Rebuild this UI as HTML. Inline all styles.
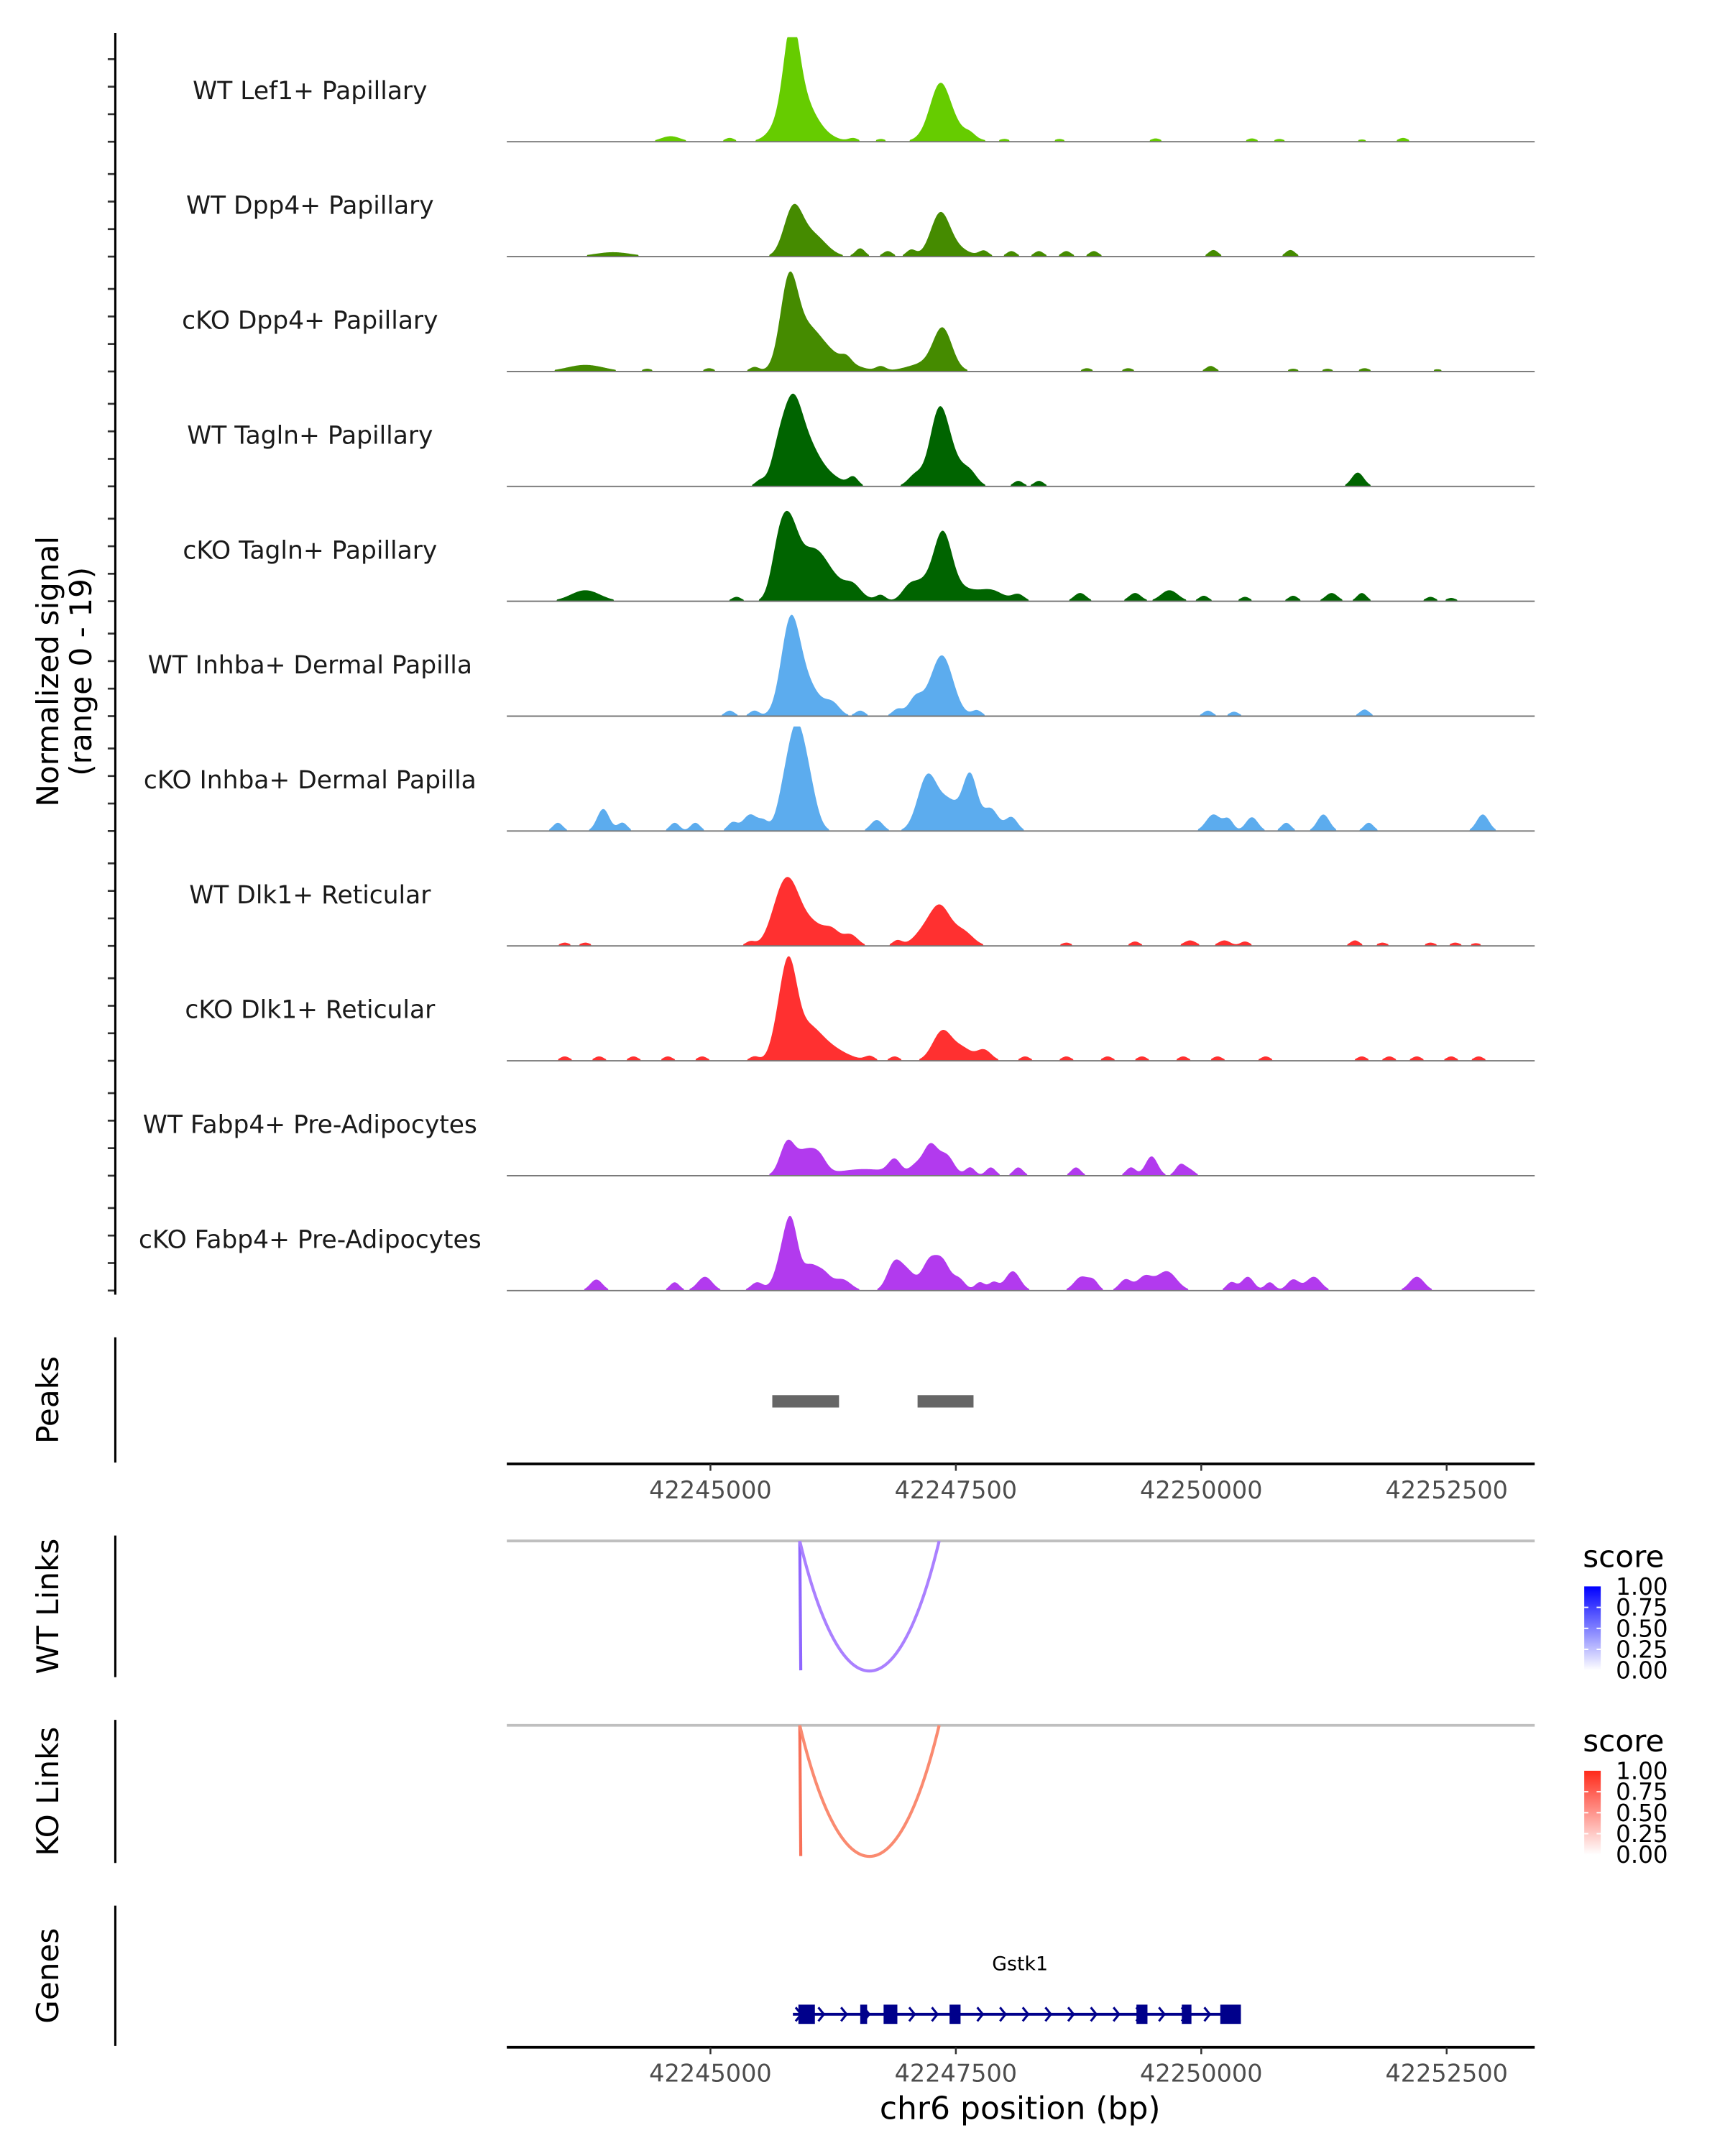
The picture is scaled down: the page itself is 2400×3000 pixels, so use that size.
<!DOCTYPE html>
<html><head><meta charset="utf-8">
<style>
html,body{margin:0;padding:0;background:#fff;}
svg{display:block;font-family:"DejaVu Sans","Liberation Sans",sans-serif;}
</style></head>
<body>
<svg id="chart" width="2400" height="3000" viewBox="0 0 1253 1567" xmlns="http://www.w3.org/2000/svg">
<g id="tracks"></g>
<g id="axes"></g>
</svg>
<script>
// ---- data ----
const REF = 42245000;
const trackNames = ["WT Lef1+ Papillary","WT Dpp4+ Papillary","cKO Dpp4+ Papillary","WT Tagln+ Papillary","cKO Tagln+ Papillary","WT Inhba+ Dermal Papilla","cKO Inhba+ Dermal Papilla","WT Dlk1+ Reticular","cKO Dlk1+ Reticular","WT Fabp4+ Pre-Adipocytes","cKO Fabp4+ Pre-Adipocytes"];
const trackColors = ["#66CC00","#458B00","#458B00","#006400","#006400","#5CACEE","#5CACEE","#FF3030","#FF3030","#B23AEE","#B23AEE"];
// bump offsets (bp relative to REF)
const bumpOffsets = [
 [826,854,960,2338,2420,-406,196,1456,1736,2646,2996,3556,4536,5516,5796,7056,6636],
 [840,1036,2338,2440,-994,1526,1806,2044,2786,3066,3346,3626,3906,5124,5908],
 [798,966,1176,2366,2200,-1274,-14,448,1386,1736,3836,4256,5096,5936,6286,6664,7406,-644],
 [826,966,686,2324,2436,2086,504,1176,1456,2646,3136,3346,6594],
 [798,1036,1176,686,2366,2156,2576,-1274,266,1456,1736,2016,2856,3136,3766,4326,4676,5026,5446,5936,6328,6636,7336,7546],
 [812,966,2366,2250,196,448,1246,1526,1904,2086,2716,5068,5334,6664],
 [868,980,756,2212,2646,2436,2856,-1554,-1092,-896,-364,-154,224,406,546,1694,3066,5124,5278,5516,5866,6244,6706,7868],
 [812,686,1036,1246,1428,2338,2576,2156,-1484,-1274,406,1904,3626,4326,4886,5236,5446,6566,6846,7336,7588,7798],
 [798,966,1176,686,2366,2576,2786,-1484,-1134,-784,-434,-84,448,1624,1876,3206,3626,4046,4396,4816,5166,5656,6636,6916,7196,7546,7826],
 [784,966,1106,1568,1876,2086,2240,2408,2646,2856,3136,3724,4284,4494,4788,4886],
 [826,728,1008,1148,1344,1876,2016,2226,2366,2534,2744,2884,3080,3780,3906,4228,4424,4648,5306,5474,5698,5936,6146,7196,-1162,-364,-56,476]
];
const bumpHeights = [
 [13,7,3,8,3,1,0.7,0.6,0.5,0.6,0.5,0.5,0.6,0.6,0.5,0.7,0.4],
 [8,4,6.5,2,0.8,1.5,1,1.2,1,1,1,1,1,1.2,1.2],
 [14,6,3,7,1.5,1.2,0.6,0.8,1,0.8,0.6,0.6,1,0.5,0.5,0.6,0.4,0.5],
 [12,7,5,11,5,2,1,2,1.5,2,1,1,2.5],
 [12,6,4,6,12,3,2,2,0.8,1.5,1,2,2,1.2,1.5,1.5,2,1,0.8,1,1.5,1.5,0.8,0.6],
 [15,6,9,2.5,1,1,2,1,1,2,1,1,0.8,1.2],
 [13,10,7,10,10,5,4,1.5,4,1.5,1.5,1.5,1.5,3,1.5,2,2.5,3,2,2.5,1.5,3,1.5,3],
 [9,5,4,2,2,7,2.5,2,0.6,0.6,0.8,1,0.6,0.8,1,1,0.8,1,0.6,0.6,0.6,0.5],
 [15,5,2.5,4,5.5,2,2,0.8,0.8,0.8,0.8,0.8,0.8,0.8,0.8,0.8,0.8,0.8,0.8,0.8,0.8,0.8,0.8,0.8,0.8,0.8,0.8],
 [6,4,3,1.2,2.5,1.5,5.5,3.5,1.5,1.5,1.5,1.5,1.5,3.5,2,1],
 [11,5,4,3,2,5,3,5,5,2,1.5,1.5,3.5,2.5,1.5,2,2.5,3.5,1.5,2.5,1.5,2,2.5,2.5,2,1.5,2.5,1.5]
];
const bumpWidths = [
 [60,120,150,80,140,80,40,40,40,40,40,40,40,40,40,40,40],
 [75,110,75,120,150,40,40,40,40,40,40,40,40,40,40],
 [70,120,180,75,150,150,40,40,40,40,40,40,40,40,40,40,40,40],
 [75,100,60,75,100,60,40,120,40,60,40,40,50],
 [75,110,180,60,75,80,100,120,40,60,40,60,100,50,50,50,70,40,40,40,50,40,40,40],
 [75,110,85,140,40,40,60,40,40,50,40,40,40,40],
 [60,70,60,80,60,80,60,40,50,40,40,40,40,60,40,50,50,60,40,50,40,50,40,50],
 [85,80,110,60,60,85,80,80,40,40,40,40,40,40,50,50,40,40,40,40,40,40],
 [65,110,150,60,80,70,60,40,40,40,40,40,40,40,40,40,40,40,40,40,40,40,40,40,40,40,40],
 [60,70,60,220,50,50,60,60,40,40,40,40,40,50,40,40],
 [55,60,60,60,70,60,60,60,60,50,40,40,60,60,40,50,60,80,40,50,40,50,60,60,50,40,60,50]
];
const xTicks = [42245000,42247500,42250000,42252500];
const peakStarts = [42245630,42247110];
const peakEnds = [42246310,42247680];
const linkStarts = [42245910,42245910];
const linkEnds = [42245920,42247330];
const exonStarts = [42245896,42246526,42246764,42247436,42249340,42249802,42250194];
const exonEnds = [42246064,42246596,42246904,42247548,42249452,42249900,42250404];
const geneStart = 42245840, geneEnd = 42250404;
const legendLabels = ["1.00","0.75","0.50","0.25","0.00"];

// ---- scales ----
const X0 = 368, X1 = 1115;
function xs(bp){ return 516 + (bp - REF) * 0.071336; }
const trackBase = i => 103 + i * 83.5;
const ys = v => Math.min(v,19) * 4;
const NS = "http://www.w3.org/2000/svg";
function mk(tag, attrs, parent){ const e=document.createElementNS(NS,tag); for(const k in attrs) e.setAttribute(k,attrs[k]); parent.appendChild(e); return e; }
const svg = document.getElementById('chart');
const tg = document.getElementById('tracks');
const ag = document.getElementById('axes');

// ---- signal tracks ----
trackNames.forEach((name,i)=>{
  const base = trackBase(i);
  const g = mk('g',{},tg);
  
  
  let d = `M${X0},${base}`;
  for(let x=X0; x<=X1; x+=0.5){
    const bp = REF + (x-516)/0.071336;
    let v = 0;
    bumpOffsets[i].forEach((o,j)=>{ const s=bumpWidths[i][j]*1.25; const dx=(bp-(REF+o))/s; v += bumpHeights[i][j]*Math.exp(-0.5*dx*dx); });
    if(v<0.3) v=0;
    d += `L${x.toFixed(1)},${(base-ys(v)).toFixed(2)}`;
  }
  d += `L${X1},${base}Z`;
  const p = mk('path',{d:d,fill:trackColors[i]},g);
  
  
  const bl = mk('line',{x1:X0,x2:X1,y1:base,y2:base,stroke:'#777','stroke-width':1},g);
  
  
  const t = mk('text',{x:225,y:base-31,'text-anchor':'middle','font-size':18,fill:'#1a1a1a'},g);
  t.textContent = name;
  
  
  for(let k=0;k<4;k++){
    const ty = base - k*20;
    const tk = mk('line',{x1:78,x2:83,y1:ty,y2:ty,stroke:'#333','stroke-width':1.4},ag);
    
    
  }
});
// main y axis
let el = mk('line',{x1:83.5,x2:83.5,y1:24,y2:941,stroke:'#000','stroke-width':1.6},ag);


el = mk('text',{transform:'translate(42,488) rotate(-90)','text-anchor':'middle','font-size':22},ag);
el.textContent='Normalized signal';


el = mk('text',{transform:'translate(66,488) rotate(-90)','text-anchor':'middle','font-size':22},ag);
el.textContent='(range 0 - 19)';



// ---- panel axis helper ----
function panelAxis(y1,y2,label,name){
  let l = mk('line',{x1:83.5,x2:83.5,y1:y1,y2:y2,stroke:'#000','stroke-width':1.6},ag);
  
  
  let t = mk('text',{transform:`translate(42,${(y1+y2)/2}) rotate(-90)`,'text-anchor':'middle','font-size':22},ag);
  t.textContent=label;
  
  
}
function xAxis(y,name){
  let l = mk('line',{x1:X0,x2:X1,y1:y,y2:y,stroke:'#000','stroke-width':2},ag);
  
  
  xTicks.forEach(v=>{
    let tk = mk('line',{x1:xs(v),x2:xs(v),y1:y,y2:y+5,stroke:'#333','stroke-width':1.3},ag);
    
    
    let tl = mk('text',{x:xs(v),y:y+25,'text-anchor':'middle','font-size':17.5,fill:'#4d4d4d'},ag);
    tl.textContent=v;
    
    
  });
}

// ---- peaks ----
panelAxis(972,1063,'Peaks','peaks');
peakStarts.forEach((s,i)=>{
  const r = mk('rect',{x:xs(s),y:1014,width:xs(peakEnds[i])-xs(s),height:9,fill:'#666'},ag);
  
  
});
xAxis(1064,'peaks-x-axis');

// ---- links ----
const linkPanels = [{top:1120,bot:1214,label:'WT Links',name:'wt-links',col1:'#8F66FF',col2:'#AA80FF',grad:['#0000FF','#ffffff']},
                    {top:1254,bot:1349,label:'KO Links',name:'ko-links',col1:'#F87058',col2:'#FA8A70',grad:['#FF2A1A','#ffffff']}];
const defs = mk('defs',{},svg);
linkPanels.forEach((P,pi)=>{
  panelAxis(P.top-4,P.bot+5,P.label,P.name);
  let gl = mk('line',{x1:X0,x2:X1,y1:P.top,y2:P.top,stroke:'#bfbfbf','stroke-width':2},ag);
  
  
  let v = mk('line',{x1:xs(linkStarts[0]),x2:xs(linkEnds[0]),y1:P.top,y2:P.bot,stroke:P.col1,'stroke-width':2.2},ag);
  
  
  const a = xs(linkStarts[1]), b = xs(linkEnds[1]);
  let arc = mk('path',{d:`M${a},${P.top} C${a+(b-a)*0.3},${P.bot+32} ${b-(b-a)*0.3},${P.bot+32} ${b},${P.top}`,fill:'none',stroke:P.col2,'stroke-width':2.2},ag);
  
  
  const gid='grad'+pi;
  const lg = mk('linearGradient',{id:gid,x1:0,y1:0,x2:0,y2:1},defs);
  mk('stop',{offset:'0','stop-color':P.grad[0]},lg);
  mk('stop',{offset:'1','stop-color':P.grad[1]},lg);
  const ly = P.top+19;
  let st = mk('text',{x:1150,y:ly,'font-size':22},ag);
  st.textContent='score';
  
  
  let bar = mk('rect',{x:1151,y:ly+14,width:12,height:61,fill:`url(#${gid})`},ag);
  
  
  legendLabels.forEach((L,k)=>{
    const yy = ly+14+k*15.25;
    if(k>0&&k<4){ mk('line',{x1:1151,x2:1154,y1:yy,y2:yy,stroke:'#fff','stroke-width':1},ag); mk('line',{x1:1160,x2:1163,y1:yy,y2:yy,stroke:'#fff','stroke-width':1},ag); }
    let tl = mk('text',{x:1174,y:yy+6,'font-size':17},ag);
    tl.textContent=L;
    
    
  });
});

// ---- genes ----
panelAxis(1385,1487,'Genes','genes');
const gy = 1464;
let gline = mk('line',{x1:xs(geneStart),x2:xs(geneEnd),y1:gy,y2:gy,stroke:'#00008B','stroke-width':2},ag);


for(let x=xs(geneStart)+2; x<xs(geneEnd)-4; x+=16.5){
  let ch = mk('path',{d:`M${x},${gy-5} L${x+4},${gy} L${x},${gy+5}`,fill:'none',stroke:'#00008B','stroke-width':1.6},ag);
  
  
}
exonStarts.forEach((s,i)=>{
  let r = mk('rect',{x:xs(s),y:gy-7,width:xs(exonEnds[i])-xs(s),height:14,fill:'#00008B'},ag);
  
  
});
let gname = mk('text',{x:741,y:1432,'text-anchor':'middle','font-size':14},ag);
gname.textContent='Gstk1';


xAxis(1488,'x-axis');
let xt = mk('text',{x:741,y:1540,'text-anchor':'middle','font-size':23},ag);
xt.textContent='chr6 position (bp)';


</script>
</body></html>
